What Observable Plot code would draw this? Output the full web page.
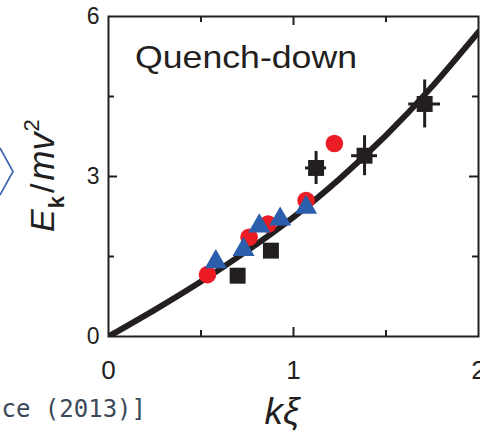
<!DOCTYPE html>
<html><head><meta charset="utf-8">
<script src="https://cdn.jsdelivr.net/npm/d3@7"></script>
<script src="https://cdn.jsdelivr.net/npm/@observablehq/plot@0.6"></script>
<style>
html,body{margin:0;padding:0;background:#fff;}
#chart svg{display:block;}
</style>
</head><body><div id="chart"></div>
<script>
// Theory curve: excitation energy E_k/mv^2 against kξ
const curveK = [0, 0.25, 0.5, 0.75, 1.0, 1.25, 1.5, 1.75, 2.0];
const curveE = [0, 0.50, 1.03, 1.61, 2.24, 2.96, 3.77, 4.69, 5.71];

// Red circles
const redK = [0.535, 0.760, 0.863, 1.068, 1.221];
const redE = [1.16, 1.86, 2.11, 2.55, 3.62];

// Blue triangles
const blueK = [0.580, 0.730, 0.815, 0.928, 1.068];
const blueE = [1.40, 1.63, 2.07, 2.20, 2.42];

// Black squares with error bars
const blackK = [0.698, 0.878, 1.122, 1.384, 1.709];
const blackE = [1.14, 1.61, 3.16, 3.39, 4.36];
const blackKErr = [0.03, 0.03, 0.057, 0.07, 0.086];
const blackEErr = [0.06, 0.06, 0.31, 0.375, 0.45];

// Axis ticks
const xTickLabels = [0, 1, 2];
const yTickLabels = [0, 3, 6];
const xMajorTicks = [1];
const xMinorTicks = [0.5, 1.5];
const yMajorTicks = [3];
const yMinorTicks = [1.5, 4.5];

const W = 480, H = 433;
const mT = 16, mR = 2, mB = 97, mL = 108;
const innerW = W - mL - mR, innerH = H - mT - mB;
const ink = "#231f20";
const sans = "'Liberation Sans', Arial, sans-serif";

const zip = (a, b) => a.map((v, i) => ({k: v, e: b[i]}));
const curve = zip(curveK, curveE);
const red = zip(redK, redE);
const blue = zip(blueK, blueE);
const black = blackK.map((k, i) => ({k, e: blackE[i], dk: blackKErr[i], de: blackEErr[i]}));

const majorLen = 9, minorLen = 6;

const chart = Plot.plot({
  width: W, height: H,
  marginTop: mT, marginRight: mR, marginBottom: mB, marginLeft: mL,
  style: {fontFamily: sans, color: ink, background: "#fff"},
  x: {domain: [0, 2], axis: null, label: null},
  y: {domain: [0, 6], axis: null, label: null},
  marks: [
    // inward ticks on all four sides
    Plot.tickX(xMajorTicks, {x: d => d, insetTop: innerH - majorLen, stroke: ink, strokeWidth: 2}),
    Plot.tickX(xMinorTicks, {x: d => d, insetTop: innerH - minorLen, stroke: ink, strokeWidth: 2}),
    Plot.tickX(xMajorTicks, {x: d => d, insetBottom: innerH - majorLen, stroke: ink, strokeWidth: 2}),
    Plot.tickX(xMinorTicks, {x: d => d, insetBottom: innerH - minorLen, stroke: ink, strokeWidth: 2}),
    Plot.tickY(yMajorTicks, {y: d => d, insetRight: innerW - majorLen, stroke: ink, strokeWidth: 2}),
    Plot.tickY(yMinorTicks, {y: d => d, insetRight: innerW - minorLen, stroke: ink, strokeWidth: 2}),
    Plot.tickY(yMajorTicks, {y: d => d, insetLeft: innerW - majorLen, stroke: ink, strokeWidth: 2}),
    Plot.tickY(yMinorTicks, {y: d => d, insetLeft: innerW - minorLen, stroke: ink, strokeWidth: 2}),
    Plot.axisX(xTickLabels, {tickSize: 0, tickPadding: 24, fontSize: 26, fill: ink, tickFormat: d => String(d), label: null, ariaLabel: "x-tick-labels"}),
    Plot.axisY(yTickLabels, {tickSize: 0, tickPadding: 9, fontSize: 23, fill: ink, tickFormat: d => String(d), label: null, ariaLabel: "y-tick-labels"}),
    Plot.frame({stroke: ink, strokeWidth: 2}),
    Plot.line(curve, {x: "k", y: "e", curve: "natural", stroke: ink, strokeWidth: 6, clip: true}),
    // error bars
    Plot.ruleX(black, {x: "k", y1: d => d.e - d.de, y2: d => d.e + d.de, stroke: ink, strokeWidth: 3}),
    Plot.ruleY(black, {y: "e", x1: d => d.k - d.dk, x2: d => d.k + d.dk, stroke: ink, strokeWidth: 3}),
    Plot.dot(black, {x: "k", y: "e", symbol: "square", r: 9, fill: ink, stroke: "none"}),
    Plot.dot(red, {x: "k", y: "e", symbol: "circle", r: 8.8, fill: "#ec1c24", stroke: "none"}),
    Plot.dot(blue, {x: "k", y: "e", symbol: "triangle", r: 8.2, fill: "#2b5fad", stroke: "none"})
  ]
});

document.getElementById("chart").append(chart);

const svg = d3.select(chart);

// widen the tick digits to the broad numerals used on this figure
svg.selectAll("g[aria-label='x-tick-labels'] text, g[aria-label='y-tick-labels'] text").each(function () {
  const w = this.getComputedTextLength();
  d3.select(this).attr("textLength", w * 1.3).attr("lengthAdjust", "spacingAndGlyphs");
});

// panel title
svg.append("text")
  .attr("x", 135).attr("y", 68)
  .attr("text-anchor", "start")
  .attr("font-family", sans)
  .attr("font-size", 32)
  .attr("fill", ink)
  .attr("textLength", 222).attr("lengthAdjust", "spacingAndGlyphs")
  .text("Quench-down");

// y-axis title: E_k / m v^2
const yt = svg.append("text")
  .attr("transform", "translate(54,232) rotate(-90)")
  .attr("text-anchor", "start")
  .attr("font-family", sans)
  .attr("font-size", 34)
  .attr("fill", ink);
yt.append("tspan").attr("font-style", "italic").text("E");
yt.append("tspan").attr("font-weight", "bold").attr("font-size", 22).attr("dy", 10).attr("dx", 1).text("k");
yt.append("tspan").attr("dy", -10).attr("dx", 3).text("/");
yt.append("tspan").attr("font-style", "italic").attr("dx", 3).attr("font-size", 36).text("mv");
yt.append("tspan").attr("font-size", 22).attr("dy", -15).attr("dx", 1).text("2");

// x-axis title: kξ
svg.append("text")
  .attr("x", 282).attr("y", 424)
  .attr("text-anchor", "middle")
  .attr("font-family", sans)
  .attr("font-style", "italic")
  .attr("font-size", 37)
  .attr("fill", ink)
  .text("kξ");

// neighbouring slide content at the left edge
svg.append("path")
  .attr("d", "M0,148L13,171.5L0,195")
  .attr("fill", "none")
  .attr("stroke", "#3a62ad")
  .attr("stroke-width", 1.6);
svg.append("text")
  .attr("x", 146).attr("y", 417)
  .attr("text-anchor", "end")
  .attr("font-family", "'DejaVu Sans Mono', monospace")
  .attr("font-size", 24)
  .attr("fill", "#3b4859")
  .text("ce (2013)]");
</script>
</body></html>
